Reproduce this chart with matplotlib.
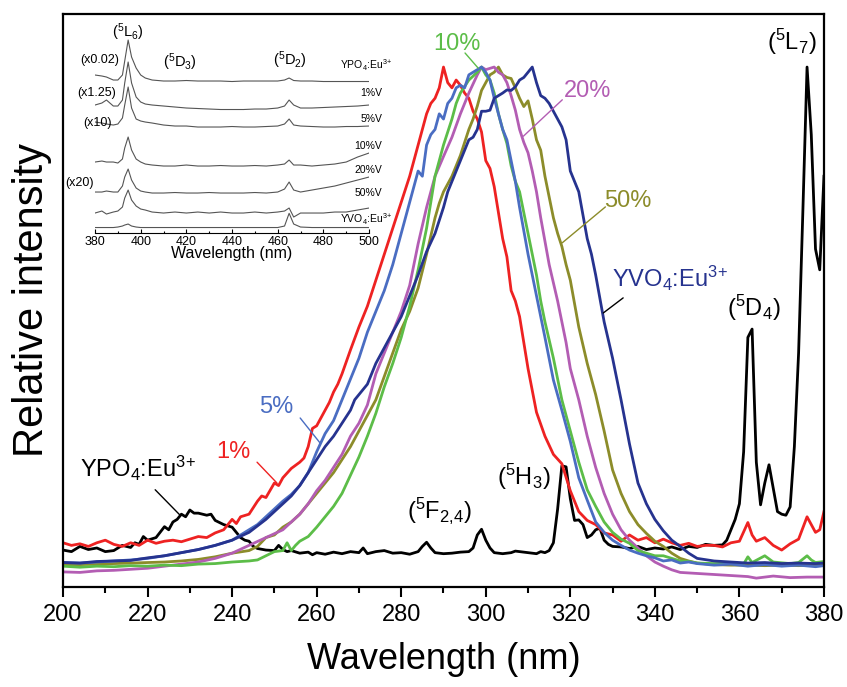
import matplotlib
matplotlib.use('Agg')
import matplotlib.pyplot as plt
from matplotlib.ticker import MultipleLocator

plt.rcParams['font.family'] = ['Liberation Sans', 'DejaVu Sans']
plt.rcParams['mathtext.default'] = 'regular'

# --- main excitation spectra (normalised intensity) ---
wl_ypo4 = [200, 202, 204, 206, 208, 210, 212, 214, 216, 217, 218, 219, 220, 222, 224, 225, 226, 227,
           228, 229, 230, 231, 232, 233, 234, 235, 236, 237, 238, 240, 241, 242, 243, 244, 245, 246,
           248, 250, 251, 252, 253, 254, 256, 258, 259, 260, 262, 264, 266, 268, 270, 271, 272, 274,
           276, 278, 280, 282, 284, 285, 286, 287, 288, 290, 292, 294, 296, 297, 298, 299, 300, 301,
           302, 304, 306, 307, 308, 310, 312, 313, 314, 315, 316, 317, 318, 319, 320, 321, 322, 323,
           324, 325, 326, 327, 328, 329, 330, 332, 334, 336, 338, 340, 342, 344, 346, 348, 350, 352,
           354, 356, 357, 358, 359, 360, 361, 362, 363, 364, 365, 366, 367, 368, 369, 370, 371, 372,
           373, 374, 375, 376, 377, 378, 379, 380]
int_ypo4 = [0.071, 0.068, 0.078, 0.072, 0.075, 0.068, 0.070, 0.080, 0.076, 0.085, 0.082, 0.097, 0.090,
            0.095, 0.116, 0.110, 0.125, 0.130, 0.140, 0.135, 0.148, 0.142, 0.142, 0.140, 0.138, 0.140,
            0.128, 0.124, 0.120, 0.115, 0.105, 0.095, 0.090, 0.088, 0.078, 0.074, 0.071, 0.070, 0.080,
            0.072, 0.068, 0.070, 0.065, 0.067, 0.062, 0.066, 0.063, 0.067, 0.064, 0.068, 0.066, 0.075,
            0.064, 0.068, 0.070, 0.065, 0.066, 0.063, 0.068, 0.078, 0.086, 0.075, 0.066, 0.064, 0.065,
            0.067, 0.068, 0.075, 0.100, 0.111, 0.090, 0.075, 0.066, 0.064, 0.066, 0.069, 0.068, 0.066,
            0.064, 0.068, 0.066, 0.070, 0.085, 0.150, 0.233, 0.231, 0.170, 0.128, 0.129, 0.120, 0.095,
            0.100, 0.110, 0.113, 0.090, 0.082, 0.078, 0.077, 0.074, 0.078, 0.072, 0.075, 0.073, 0.077,
            0.072, 0.078, 0.076, 0.082, 0.080, 0.081, 0.090, 0.110, 0.130, 0.160, 0.260, 0.480, 0.496,
            0.240, 0.158, 0.200, 0.235, 0.190, 0.145, 0.140, 0.138, 0.154, 0.270, 0.450, 0.720, 1.000,
            0.870, 0.650, 0.610, 0.790]

wl_1 = [200, 202, 204, 206, 208, 210, 212, 214, 216, 218, 220, 222, 224, 226, 228, 230, 232, 234, 236,
        238, 240, 241, 242, 244, 246, 247, 248, 250, 251, 252, 254, 256, 257, 258, 259, 260, 262, 263,
        264, 265, 266, 268, 270, 272, 274, 276, 278, 280, 282, 284, 286, 287, 288, 289, 290, 291, 292,
        293, 294, 295, 296, 297, 298, 299, 300, 301, 302, 303, 304, 305, 306, 307, 308, 310, 312, 314,
        316, 318, 320, 322, 324, 326, 328, 330, 332, 334, 336, 338, 340, 342, 344, 346, 348, 350, 352,
        354, 356, 358, 360, 362, 363, 364, 366, 368, 370, 372, 374, 376, 377, 378, 379, 380]
int_1 = [0.085, 0.080, 0.083, 0.078, 0.085, 0.090, 0.082, 0.078, 0.085, 0.080, 0.090, 0.084, 0.088,
         0.090, 0.087, 0.092, 0.097, 0.095, 0.104, 0.110, 0.130, 0.122, 0.135, 0.140, 0.165, 0.175,
         0.172, 0.200, 0.195, 0.210, 0.228, 0.240, 0.248, 0.270, 0.305, 0.310, 0.340, 0.355, 0.375,
         0.390, 0.410, 0.456, 0.500, 0.540, 0.590, 0.640, 0.690, 0.740, 0.790, 0.850, 0.910, 0.930,
         0.940, 0.960, 1.000, 0.970, 0.960, 0.975, 0.965, 0.950, 0.940, 0.915, 0.900, 0.875, 0.820,
         0.805, 0.770, 0.720, 0.670, 0.635, 0.570, 0.550, 0.520, 0.420, 0.336, 0.290, 0.255, 0.237,
         0.185, 0.145, 0.128, 0.120, 0.104, 0.100, 0.088, 0.100, 0.090, 0.095, 0.085, 0.092, 0.085,
         0.080, 0.084, 0.078, 0.080, 0.080, 0.077, 0.085, 0.088, 0.124, 0.100, 0.088, 0.095, 0.080,
         0.071, 0.083, 0.092, 0.135, 0.120, 0.105, 0.110, 0.145]

wl_5 = [200, 204, 208, 212, 216, 220, 224, 228, 232, 236, 240, 244, 246, 248, 250, 252, 254, 256, 258,
        260, 262, 264, 266, 268, 270, 272, 274, 276, 278, 280, 282, 284, 285, 286, 287, 288, 289, 290,
        291, 292, 293, 294, 295, 296, 297, 298, 299, 300, 301, 302, 303, 304, 305, 306, 307, 308, 309,
        310, 312, 314, 316, 318, 320, 322, 324, 326, 328, 330, 332, 334, 336, 338, 340, 342, 344, 346,
        348, 350, 354, 358, 362, 366, 370, 374, 378, 380]
int_5 = [0.047, 0.046, 0.048, 0.050, 0.052, 0.055, 0.060, 0.066, 0.072, 0.080, 0.090, 0.110, 0.120,
         0.135, 0.150, 0.165, 0.178, 0.195, 0.220, 0.260, 0.295, 0.320, 0.360, 0.400, 0.440, 0.490,
         0.530, 0.570, 0.620, 0.680, 0.740, 0.800, 0.790, 0.850, 0.870, 0.880, 0.910, 0.900, 0.930,
         0.940, 0.960, 0.965, 0.960, 0.985, 0.990, 0.995, 1.000, 0.990, 0.975, 0.940, 0.910, 0.880,
         0.860, 0.820, 0.780, 0.730, 0.685, 0.640, 0.560, 0.480, 0.398, 0.340, 0.280, 0.210, 0.167,
         0.125, 0.105, 0.090, 0.080, 0.071, 0.065, 0.060, 0.056, 0.050, 0.052, 0.046, 0.048, 0.045,
         0.042, 0.044, 0.040, 0.043, 0.040, 0.042, 0.039, 0.041]

wl_10 = [200, 204, 208, 212, 216, 220, 224, 228, 232, 236, 240, 244, 246, 248, 250, 252, 253, 254, 255,
         256, 258, 260, 262, 264, 266, 268, 270, 272, 274, 276, 278, 280, 282, 284, 286, 288, 290, 292,
         293, 294, 296, 298, 299, 300, 301, 302, 303, 304, 305, 306, 307, 308, 309, 310, 311, 312, 313,
         314, 316, 318, 320, 322, 324, 326, 328, 330, 332, 334, 336, 338, 340, 342, 344, 346, 348, 350,
         354, 358, 361, 362, 363, 366, 368, 372, 374, 376, 377, 378, 380]
int_10 = [0.040, 0.038, 0.040, 0.039, 0.041, 0.040, 0.042, 0.041, 0.044, 0.045, 0.048, 0.050, 0.052,
          0.060, 0.068, 0.070, 0.085, 0.070, 0.080, 0.088, 0.097, 0.115, 0.135, 0.155, 0.180, 0.215,
          0.250, 0.290, 0.334, 0.385, 0.430, 0.480, 0.540, 0.610, 0.690, 0.790, 0.850, 0.900, 0.930,
          0.950, 0.975, 0.990, 1.000, 0.985, 0.975, 0.950, 0.910, 0.880, 0.853, 0.810, 0.780, 0.760,
          0.720, 0.680, 0.640, 0.600, 0.550, 0.510, 0.440, 0.360, 0.300, 0.240, 0.187, 0.155, 0.125,
          0.105, 0.092, 0.084, 0.070, 0.065, 0.060, 0.060, 0.055, 0.050, 0.049, 0.046, 0.045, 0.046,
          0.044, 0.058, 0.047, 0.060, 0.048, 0.045, 0.047, 0.060, 0.052, 0.047, 0.049]

wl_20 = [200, 204, 208, 212, 216, 220, 224, 228, 232, 236, 240, 244, 248, 252, 254, 256, 258, 260, 262,
         264, 266, 268, 270, 272, 274, 276, 278, 280, 282, 284, 286, 288, 290, 292, 294, 296, 298, 299,
         300, 302, 303, 304, 305, 306, 307, 308, 309, 310, 311, 312, 313, 314, 315, 316, 317, 318, 319,
         320, 322, 324, 326, 328, 330, 332, 334, 336, 338, 340, 342, 344, 346, 350, 354, 358, 362, 364,
         368, 372, 376, 380]
int_20 = [0.029, 0.028, 0.031, 0.032, 0.034, 0.036, 0.040, 0.044, 0.048, 0.055, 0.065, 0.080, 0.095,
          0.110, 0.125, 0.140, 0.160, 0.185, 0.205, 0.230, 0.255, 0.290, 0.315, 0.350, 0.410, 0.450,
          0.490, 0.530, 0.580, 0.660, 0.730, 0.790, 0.828, 0.865, 0.910, 0.950, 0.985, 1.000, 0.995,
          1.000, 0.990, 0.985, 0.970, 0.945, 0.917, 0.880, 0.855, 0.835, 0.800, 0.760, 0.710, 0.665,
          0.620, 0.585, 0.550, 0.510, 0.470, 0.420, 0.360, 0.290, 0.230, 0.180, 0.140, 0.110, 0.090,
          0.075, 0.060, 0.048, 0.040, 0.033, 0.028, 0.026, 0.024, 0.022, 0.020, 0.017, 0.021, 0.018,
          0.019, 0.019]

wl_50 = [200, 204, 208, 212, 216, 220, 224, 228, 232, 236, 240, 244, 246, 248, 250, 252, 254, 256, 258,
         260, 262, 264, 266, 268, 270, 272, 274, 276, 278, 280, 282, 284, 286, 288, 289, 290, 292, 294,
         296, 297, 298, 299, 300, 301, 302, 303, 304, 305, 306, 307, 308, 309, 310, 311, 312, 313, 314,
         315, 316, 317, 318, 319, 320, 322, 324, 326, 328, 330, 332, 334, 336, 338, 340, 342, 344, 346,
         348, 350, 354, 358, 362, 366, 370, 374, 378, 380]
int_50 = [0.042, 0.043, 0.044, 0.045, 0.046, 0.047, 0.048, 0.050, 0.053, 0.058, 0.065, 0.070, 0.078,
          0.095, 0.100, 0.115, 0.125, 0.140, 0.160, 0.180, 0.200, 0.220, 0.245, 0.270, 0.300, 0.330,
          0.360, 0.405, 0.450, 0.495, 0.530, 0.575, 0.640, 0.710, 0.738, 0.760, 0.790, 0.830, 0.880,
          0.900, 0.925, 0.955, 0.970, 0.985, 0.990, 1.000, 0.985, 0.980, 0.978, 0.960, 0.940, 0.924,
          0.935, 0.900, 0.860, 0.840, 0.790, 0.750, 0.710, 0.680, 0.655, 0.620, 0.590, 0.500, 0.430,
          0.370, 0.300, 0.225, 0.180, 0.145, 0.120, 0.103, 0.088, 0.078, 0.065, 0.055, 0.050, 0.046,
          0.043, 0.042, 0.042, 0.041, 0.042, 0.041, 0.042, 0.042]

wl_yvo4 = [200, 204, 208, 212, 216, 220, 224, 228, 232, 236, 240, 244, 248, 250, 252, 254, 256, 258,
           260, 262, 264, 266, 268, 269, 270, 272, 274, 276, 278, 280, 282, 284, 286, 288, 290, 291,
           292, 293, 294, 295, 296, 297, 298, 299, 300, 301, 302, 303, 304, 305, 306, 307, 308, 309,
           310, 311, 312, 313, 314, 315, 316, 317, 318, 319, 320, 321, 322, 323, 324, 325, 326, 327,
           328, 330, 332, 334, 336, 338, 340, 342, 344, 346, 348, 350, 354, 358, 362, 366, 370, 374,
           378, 380]
int_yvo4 = [0.047, 0.046, 0.049, 0.050, 0.051, 0.056, 0.060, 0.066, 0.072, 0.080, 0.090, 0.105, 0.130,
            0.145, 0.160, 0.175, 0.195, 0.220, 0.245, 0.270, 0.290, 0.315, 0.340, 0.360, 0.370, 0.390,
            0.430, 0.460, 0.490, 0.520, 0.560, 0.600, 0.645, 0.680, 0.730, 0.760, 0.780, 0.800, 0.820,
            0.840, 0.860, 0.865, 0.880, 0.915, 0.915, 0.917, 0.940, 0.945, 0.950, 0.956, 0.955, 0.962,
            0.975, 0.980, 0.990, 1.000, 0.970, 0.945, 0.940, 0.930, 0.915, 0.900, 0.885, 0.860, 0.800,
            0.780, 0.760, 0.715, 0.670, 0.640, 0.600, 0.555, 0.510, 0.440, 0.360, 0.275, 0.200, 0.160,
            0.130, 0.108, 0.090, 0.078, 0.065, 0.055, 0.050, 0.048, 0.046, 0.047, 0.045, 0.046, 0.045,
            0.046]

# --- inset: emission traces, stacked (arbitrary units with offsets) ---
wl_em = [380, 383, 385, 388, 390, 392, 393, 394.5, 396, 398, 400, 402, 405, 410, 415, 420, 425, 430,
         435, 440, 445, 450, 455, 460, 463, 465, 467, 470, 475, 480, 485, 490, 495, 500]
em_ypo4 = [158, 157, 156, 153, 153, 158, 172, 193, 176, 165, 158, 155, 153, 152, 152, 152.5, 152, 152,
           152, 151.5, 152, 152, 152, 152, 153, 155, 152.5, 152, 152, 151.5, 151.5, 151.5, 151.5, 151.5]
em_1 = [128, 130, 133, 127, 127, 133, 150, 171, 150, 136, 131, 129, 128, 127, 126, 125, 124.5, 124,
        123.5, 123.5, 123.5, 124, 124, 125, 127, 133, 128, 125, 125, 125.5, 126, 126.5, 127, 128]
em_5 = [111, 110, 109, 108, 109, 115, 128, 146, 125, 114, 112, 111, 110, 108, 107, 107, 106, 106, 106,
        106.5, 106, 106, 106.5, 107, 109, 114, 108, 107, 106.5, 106, 106, 106.5, 106.5, 107]
em_10 = [71, 72, 71, 71, 70, 74, 85, 96, 83, 74, 71, 69, 68, 67, 67, 68, 67, 67, 67.5, 67, 67, 67.5,
         67, 68, 69, 73, 68, 68, 67, 68, 69, 71, 76, 80]
em_20 = [41, 41, 42, 41, 41, 47, 56, 64, 53, 45, 42, 41, 40, 40, 40.5, 40, 40, 40.5, 40, 40, 40, 40.5,
         40, 41, 44, 51, 43, 41, 43, 45, 47, 50, 53, 56]
em_50 = [20, 22, 19, 21, 22, 26, 35, 43, 33, 27, 24, 23, 21, 20, 21, 20, 21, 20, 21, 20, 20, 21, 20,
         21, 22, 25, 16, 20, 20, 20, 21, 21, 23, 25]
em_yvo4 = [5.5, 5.5, 5.5, 5.5, 6, 7, 8, 9, 7, 6, 5.5, 5.5, 5.5, 5.5, 5.5, 5.5, 5.5, 5.5, 5.5, 5.5, 5.5,
           5.5, 5.5, 5.5, 7, 19.7, 9, 6, 5.5, 5.5, 5.5, 5.5, 5.5, 5.5]

EU = 'Eu$^{3}$$^{+}$'

fig = plt.figure(figsize=(8.47, 6.87), dpi=100)
ax = fig.add_axes([0.0744, 0.1456, 0.8984, 0.834])

lw = 2.0
ax.plot(wl_ypo4, int_ypo4, color='black', lw=lw)
ax.plot(wl_1, int_1, color='#ee2222', lw=lw)
ax.plot(wl_50, int_50, color='#8c8c2a', lw=lw)
ax.plot(wl_20, int_20, color='#b35db3', lw=lw)
ax.plot(wl_10, int_10, color='#5cbd48', lw=lw)
ax.plot(wl_5, int_5, color='#4a6dc2', lw=lw)
ax.plot(wl_yvo4, int_yvo4, color='#26338f', lw=lw)

ax.set_xlim(200, 380)
ax.set_ylim(0, 1.102)
ax.set_yticks([])
ax.xaxis.set_major_locator(MultipleLocator(20))
ax.xaxis.set_minor_locator(MultipleLocator(10))
ax.tick_params(axis='x', which='major', direction='out', length=7, width=1.5, labelsize=17, pad=5)
ax.tick_params(axis='x', which='minor', direction='out', length=4, width=1.5)
for s in ax.spines.values():
    s.set_linewidth(1.6)
ax.set_xlabel('Wavelength (nm)', fontsize=26, labelpad=12)
ax.set_ylabel('Relative intensity', fontsize=30, labelpad=8)

fs = 17
line = dict(arrowstyle='-', lw=1.0, shrinkA=0, shrinkB=0)
ax.text(217.7, 0.212, 'YPO$_4$:' + EU, fontsize=fs, ha='center', va='baseline')
ax.annotate('', xy=(227.7, 0.138), xytext=(221.8, 0.187), arrowprops=dict(line, color='black'))
ax.text(240.2, 0.248, '1%', fontsize=fs, color='#ee2222', ha='center', va='baseline')
ax.annotate('', xy=(250.6, 0.200), xytext=(245.9, 0.240), arrowprops=dict(line, color='#ee2222'))
ax.text(250.4, 0.334, '5%', fontsize=fs, color='#4a6dc2', ha='center', va='baseline')
ax.annotate('', xy=(260.8, 0.277), xytext=(256.1, 0.325), arrowprops=dict(line, color='#4a6dc2'))
ax.text(293.2, 1.033, '10%', fontsize=fs, color='#5cbd48', ha='center', va='baseline')
ax.annotate('', xy=(298.2, 0.998), xytext=(295.1, 1.027), arrowprops=dict(line, color='#5cbd48'))
ax.text(324.0, 0.942, '20%', fontsize=fs, color='#b35db3', ha='center', va='baseline')
ax.annotate('', xy=(308.9, 0.867), xytext=(318.1, 0.937), arrowprops=dict(line, color='#b35db3'))
ax.text(333.5, 0.731, '50%', fontsize=fs, color='#8c8c2a', ha='center', va='baseline')
ax.annotate('', xy=(318.1, 0.662), xytext=(328.3, 0.731), arrowprops=dict(line, color='#8c8c2a'))
ax.text(329.9, 0.577, 'YVO$_4$:' + EU, fontsize=fs, color='#26338f', ha='left', va='baseline')
ax.annotate('', xy=(327.8, 0.527), xytext=(332.5, 0.556), arrowprops=dict(line, color='black'))

ax.text(289.2, 0.148, '($^5$F$_{2,\\!4}$)', fontsize=fs, ha='center', va='center')
ax.text(309.1, 0.212, '($^5$H$_3$)', fontsize=fs, ha='center', va='center')
ax.text(363.5, 0.537, '($^5$D$_4$)', fontsize=fs, ha='center', va='center')
ax.text(372.5, 1.048, '($^5$L$_7$)', fontsize=fs, ha='center', va='center')

# inset
ins = fig.add_axes([0.1122, 0.6608, 0.3235, 0.3028])
ins.patch.set_alpha(0)
for trace in [em_ypo4, em_1, em_5, em_10, em_20, em_50, em_yvo4]:
    ins.plot(wl_em, trace, color='#555555', lw=0.8)
ins.set_xlim(380, 500)
ins.set_ylim(0, 208)
ins.set_yticks([])
for side in ['left', 'right', 'top']:
    ins.spines[side].set_visible(False)
ins.spines['bottom'].set_linewidth(0.8)
ins.xaxis.set_major_locator(MultipleLocator(20))
ins.xaxis.set_minor_locator(MultipleLocator(10))
ins.tick_params(axis='x', which='major', direction='in', length=3, width=0.8, labelsize=9, pad=2)
ins.tick_params(axis='x', which='minor', direction='in', length=1.8, width=0.8)
ins.set_xlabel('Wavelength (nm)', fontsize=11.5, labelpad=-1)

sfs = 7.5
right_labels = ['YPO$_4$:' + EU, '1%V', '5%V', '10%V', '20%V', '50%V', 'YVO$_4$:' + EU]
right_y = [168, 140, 114, 87, 63, 40, 14]
for lab, yy in zip(right_labels, right_y):
    xx = 510 if 'Eu' in lab else 505.7
    ins.text(xx, yy, lab, fontsize=sfs, ha='right', va='center', clip_on=False)

ins.text(382.2, 173, '(x0.02)', fontsize=9, ha='center', va='center')
ins.text(380.9, 140, '(x1.25)', fontsize=9, ha='center', va='center')
ins.text(380.9, 110, '(x10)', fontsize=9, ha='center', va='center')
ins.text(373.4, 50, '(x20)', fontsize=9, ha='center', va='center', clip_on=False)
ins.text(394.5, 201, '($^5$L$_6$)', fontsize=10.5, ha='center', va='center')
ins.text(417.2, 171, '($^5$D$_3$)', fontsize=10.5, ha='center', va='center')
ins.text(465.4, 173, '($^5$D$_2$)', fontsize=10.5, ha='center', va='center')

fig.savefig('out.png', dpi=100)
